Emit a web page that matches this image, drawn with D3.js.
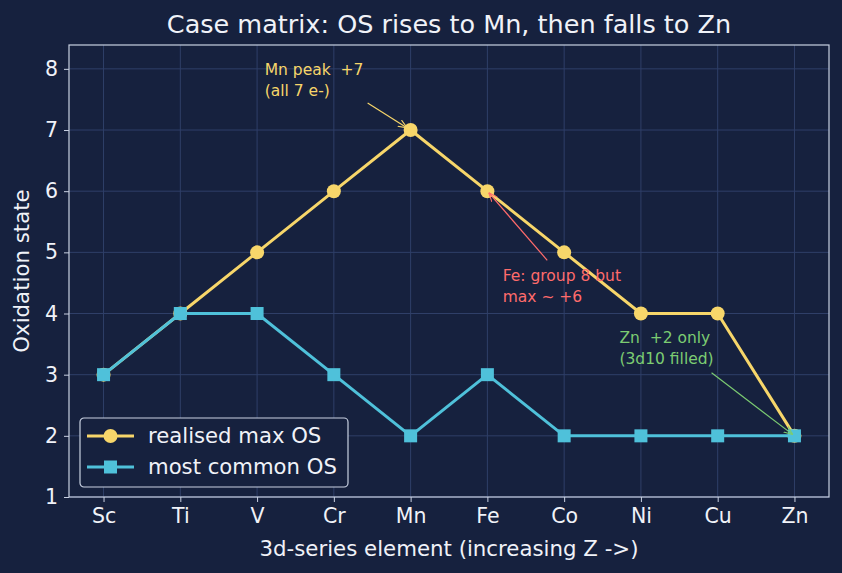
<!DOCTYPE html>
<html>
<head>
<meta charset="utf-8">
<script src="https://cdn.jsdelivr.net/npm/d3@7"></script>
<style>
  body { margin: 0; background: #16213e; }
  text { font-family: "DejaVu Sans", sans-serif; white-space: pre; }
</style>
</head>
<body>
<div id="chart"></div>
<script>
const elements = ["Sc", "Ti", "V", "Cr", "Mn", "Fe", "Co", "Ni", "Cu", "Zn"];
const maxOS = [3, 4, 5, 6, 7, 6, 5, 4, 4, 2];
const commonOS = [3, 4, 4, 3, 2, 3, 2, 2, 2, 2];
const yTicks = [1, 2, 3, 4, 5, 6, 7, 8];

const width = 842, height = 573;
const margin = { top: 45, right: 13, bottom: 76, left: 69 };
const bg = "#16213e", fg = "#f0f2f8", spine = "#c9d1e2", grid = "#2f3f68";
const gold = "#f7d66a", cyan = "#4fc1da";

const svg = d3.select("#chart").append("svg")
    .attr("width", width).attr("height", height)
    .style("background", bg);

const x = d3.scaleLinear()
    .domain([-0.45, elements.length - 1 + 0.45])
    .range([margin.left, width - margin.right]);
const y = d3.scaleLinear()
    .domain([1, 8.39])
    .range([height - margin.bottom, margin.top]);

// grid
svg.append("g").selectAll("line.vg")
    .data(elements).enter().append("line")
    .attr("x1", (d, i) => x(i)).attr("x2", (d, i) => x(i))
    .attr("y1", y(8.39)).attr("y2", y(1))
    .style("stroke", grid).style("stroke-width", 1);
svg.append("g").selectAll("line.hg")
    .data(yTicks).enter().append("line")
    .attr("x1", x.range()[0]).attr("x2", x.range()[1])
    .attr("y1", d => y(d)).attr("y2", d => y(d))
    .style("stroke", grid).style("stroke-width", 1);

// axes
const xAxis = svg.append("g")
    .attr("transform", `translate(0,${height - margin.bottom})`)
    .call(d3.axisBottom(x).tickValues(d3.range(elements.length)).tickFormat(i => elements[i]).tickSizeOuter(0).tickSize(5).tickPadding(6));
const yAxis = svg.append("g")
    .attr("transform", `translate(${margin.left},0)`)
    .call(d3.axisLeft(y).tickValues(yTicks).tickSizeOuter(0).tickSize(5).tickPadding(6));
[xAxis, yAxis].forEach(a => {
    a.select(".domain").remove();
    a.selectAll("line").style("stroke", spine);
    a.selectAll("text").style("fill", fg).style("font-size", "20.5px").style("font-family", "DejaVu Sans");
});

// frame
svg.append("rect")
    .attr("x", margin.left).attr("y", margin.top)
    .attr("width", width - margin.left - margin.right)
    .attr("height", height - margin.top - margin.bottom)
    .style("fill", "none").style("stroke", spine).style("stroke-width", 1.2);

// lines
const line = d3.line().x((d, i) => x(i)).y(d => y(d));
svg.append("path").datum(maxOS).attr("d", line)
    .style("fill", "none").style("stroke", gold).style("stroke-width", 3);
svg.selectAll(".max-pt").data(maxOS).enter().append("circle")
    .attr("class", "max-pt")
    .attr("cx", (d, i) => x(i)).attr("cy", d => y(d)).attr("r", 7)
    .style("fill", gold);

svg.append("path").datum(commonOS).attr("d", line)
    .style("fill", "none").style("stroke", cyan).style("stroke-width", 3);
svg.selectAll(".com-pt").data(commonOS).enter().append("rect")
    .attr("class", "com-pt")
    .attr("x", (d, i) => x(i) - 6.5).attr("y", d => y(d) - 6.5)
    .attr("width", 13).attr("height", 13)
    .style("fill", cyan);

// annotations
svg.append("defs").selectAll("marker")
    .data([["gold", gold], ["red", "#ff6b6b"], ["green", "#7ccc72"]])
    .enter().append("marker")
    .attr("id", d => "arr-" + d[0])
    .attr("viewBox", "0 0 10 10").attr("refX", 10).attr("refY", 5)
    .attr("markerWidth", 9).attr("markerHeight", 9)
    .attr("markerUnits", "userSpaceOnUse")
    .attr("orient", "auto")
    .append("path").attr("d", "M0,1 L10,5 L0,9")
    .style("fill", "none").style("stroke", d => d[1]).style("stroke-width", 1.2);

const notes = [
    { lines: ["Mn peak  +7", "(all 7 e-)"], tx: 2.1, ty: 7.9, ax: 3.44, ay: 7.44, px: 4, py: 7, color: gold, id: "gold" },
    { lines: ["Fe: group 8 but", "max ~ +6"], tx: 5.2, ty: 4.53, ax: 5.78, ay: 4.87, px: 5, py: 6, color: "#ff6b6b", id: "red" },
    { lines: ["Zn  +2 only", "(3d10 filled)"], tx: 6.72, ty: 3.52, ax: 7.92, ay: 3.03, px: 9, py: 2, color: "#7ccc72", id: "green" }
];
notes.forEach(n => {
    const t = svg.append("text")
        .attr("x", x(n.tx)).attr("y", y(n.ty))
        .style("fill", n.color).style("font-size", "15.5px");
    n.lines.forEach((s, k) => {
        t.append("tspan").attr("x", x(n.tx)).attr("dy", k === 0 ? 0 : 21).text(s);
    });
    const x0 = x(n.ax), y0 = y(n.ay), x1 = x(n.px), y1 = y(n.py);
    const len = Math.hypot(x1 - x0, y1 - y0), shrink = n.id === "gold" ? 4 : 2;
    svg.append("line")
        .attr("x1", x0).attr("y1", y0)
        .attr("x2", x1 - (x1 - x0) / len * shrink).attr("y2", y1 - (y1 - y0) / len * shrink)
        .style("stroke", n.color).style("stroke-width", 1.2)
        .attr("marker-end", `url(#arr-${n.id})`);
});

// legend
const lg = svg.append("g").attr("transform", "translate(80,418)");
lg.append("rect").attr("width", 268).attr("height", 69).attr("rx", 4)
    .style("fill", bg).style("stroke", spine).style("stroke-width", 1.2);
const legendItems = [["realised max OS", gold, "circle"], ["most common OS", cyan, "square"]];
legendItems.forEach((d, k) => {
    const cy = 18 + k * 31;
    lg.append("line").attr("x1", 7).attr("x2", 54).attr("y1", cy).attr("y2", cy)
        .style("stroke", d[1]).style("stroke-width", 3);
    if (d[2] === "circle") {
        lg.append("circle").attr("cx", 30.5).attr("cy", cy).attr("r", 7).style("fill", d[1]);
    } else {
        lg.append("rect").attr("x", 24).attr("y", cy - 6.5).attr("width", 13).attr("height", 13).style("fill", d[1]);
    }
    lg.append("text").attr("x", 68).attr("y", cy).attr("dy", "0.35em")
        .style("fill", fg).style("font-size", "21.2px").text(d[0]);
});

// titles
svg.append("text").attr("x", (margin.left + width - margin.right) / 2).attr("y", 33)
    .attr("text-anchor", "middle").style("fill", fg).style("font-size", "25.5px")
    .text("Case matrix: OS rises to Mn, then falls to Zn");
svg.append("text").attr("x", (margin.left + width - margin.right) / 2).attr("y", 556)
    .attr("text-anchor", "middle").style("fill", fg).style("font-size", "21.3px")
    .text("3d-series element (increasing Z ->)");
svg.append("text").attr("transform", `translate(29,${(margin.top + height - margin.bottom) / 2}) rotate(-90)`)
    .attr("text-anchor", "middle").style("fill", fg).style("font-size", "21.3px")
    .text("Oxidation state");
</script>
</body>
</html>
